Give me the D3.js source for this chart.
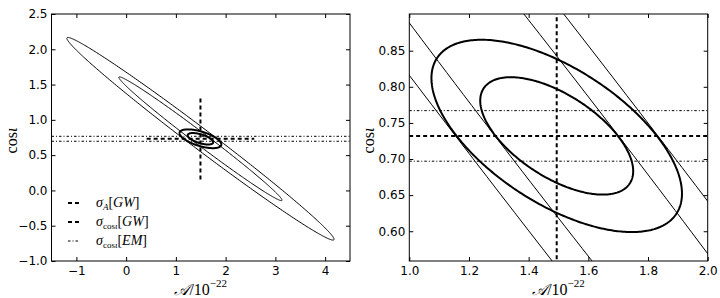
<!DOCTYPE html>
<html>
<head>
<meta charset="utf-8">
<script src="https://cdn.jsdelivr.net/npm/d3@7"></script>
<style>
body { margin: 0; background: white; }
.tick text { font-family: "DejaVu Sans", sans-serif; font-size: 12px; fill: black; }
.tick line { stroke: black; stroke-width: 1; }
.lab { font-family: "Liberation Serif", "DejaVu Serif", serif; fill: black; }
</style>
</head>
<body>
<script>
var width = 720, height = 298;

// centre of the contours (A/1e-22, cos iota)
var center = [1.494, 0.732];
// GW-only fisher errors and correlation
var gwSigma = [1.081, 0.578];
var gwRho = -0.992;
// GW+EM errors and correlation
var jointSigma = [0.169, 0.0536];
var jointRho = -0.6;
// EM prior on cos iota
var emSigma = 0.035;
// delta chi^2 levels (68%, 95%)
var chi2Levels = [2.30, 6.17];

var leftXDomain = [-1.5, 4.5], leftYDomain = [-1.0, 2.5];
var rightXDomain = [1.0, 2.0], rightYDomain = [0.5588, 0.9008];
var leftXTicks = [-1, 0, 1, 2, 3, 4];
var leftYTicks = [-1.0, -0.5, 0.0, 0.5, 1.0, 1.5, 2.0, 2.5];
var rightXTicks = [1.0, 1.2, 1.4, 1.6, 1.8, 2.0];
var rightYTicks = [0.60, 0.65, 0.70, 0.75, 0.80, 0.85];

var panels = [
    {name: "left", x0: 51.5, x1: 350, y0: 14, y1: 261,
     xd: leftXDomain, yd: leftYDomain, xt: leftXTicks, yt: leftYTicks,
     xf: d3.format("d"), yf: d3.format(".1f"), legend: true},
    {name: "right", x0: 409.3, x1: 707.7, y0: 14, y1: 261,
     xd: rightXDomain, yd: rightYDomain, xt: rightXTicks, yt: rightYTicks,
     xf: d3.format(".1f"), yf: d3.format(".2f"), legend: false}
];

var svg = d3.select("body").append("svg")
    .attr("width", width)
    .attr("height", height);

function ellipsePoints(sigma, rho, k){
    var pts = [];
    var s = Math.sqrt(k);
    for (var i = 0; i < 360; i++) {
        var t = i / 360 * 2 * Math.PI;
        pts.push([center[0] + s * sigma[0] * Math.cos(t),
                  center[1] + s * sigma[1] * (rho * Math.cos(t) + Math.sqrt(1 - rho * rho) * Math.sin(t))]);
    }
    return pts;
}

function drawPanel(p){
    var x = d3.scaleLinear().domain(p.xd).range([p.x0, p.x1]);
    var y = d3.scaleLinear().domain(p.yd).range([p.y1, p.y0]);
    var w = p.x1 - p.x0, h = p.y1 - p.y0;

    svg.append("clipPath").attr("id", "clip-" + p.name)
      .append("rect")
        .attr("x", p.x0).attr("y", p.y0)
        .attr("width", w).attr("height", h);

    var g = svg.append("g").attr("clip-path", "url(#clip-" + p.name + ")");

    var line = d3.line()
        .x(function(d) { return x(d[0]); })
        .y(function(d) { return y(d[1]); })
        .curve(d3.curveLinearClosed);

    // GW ellipses (thin)
    chi2Levels.forEach(function(k){
        g.append("path")
            .attr("d", line(ellipsePoints(gwSigma, gwRho, k)))
            .style("fill", "none").style("stroke", "black").style("stroke-width", 1);
    });
    // GW+EM ellipses (thick)
    chi2Levels.forEach(function(k){
        g.append("path")
            .attr("d", line(ellipsePoints(jointSigma, jointRho, k)))
            .style("fill", "none").style("stroke", "black").style("stroke-width", 2);
    });

    // sigma_A[GW]
    g.append("line")
        .attr("x1", x(center[0] - gwSigma[0])).attr("x2", x(center[0] + gwSigma[0]))
        .attr("y1", y(center[1])).attr("y2", y(center[1]))
        .style("stroke", "black").style("stroke-width", 2).style("stroke-dasharray", "4,3");
    // sigma_cos[GW]
    g.append("line")
        .attr("x1", x(center[0])).attr("x2", x(center[0]))
        .attr("y1", y(center[1] - gwSigma[1])).attr("y2", y(center[1] + gwSigma[1]))
        .style("stroke", "black").style("stroke-width", 2).style("stroke-dasharray", "4,3");
    // sigma_cos[EM]
    [-1, 1].forEach(function(s){
        g.append("line")
            .attr("x1", p.x0).attr("x2", p.x1)
            .attr("y1", y(center[1] + s * emSigma)).attr("y2", y(center[1] + s * emSigma))
            .style("stroke", "black").style("stroke-width", 1).style("stroke-dasharray", "2.5,2,1,2");
    });

    // axes, ticks inside on all sides
    svg.append("g").attr("transform", "translate(0," + p.y1 + ")")
        .call(d3.axisBottom(x).tickValues(p.xt).tickFormat(p.xf).tickSizeInner(-4).tickSizeOuter(0).tickPadding(5))
        .call(function(a){ a.select(".domain").remove(); });
    svg.append("g").attr("transform", "translate(0," + p.y0 + ")")
        .call(d3.axisTop(x).tickValues(p.xt).tickFormat("").tickSizeInner(-4).tickSizeOuter(0))
        .call(function(a){ a.select(".domain").remove(); });
    svg.append("g").attr("transform", "translate(" + p.x0 + ",0)")
        .call(d3.axisLeft(y).tickValues(p.yt).tickFormat(p.yf).tickSizeInner(-4).tickSizeOuter(0).tickPadding(4))
        .call(function(a){ a.select(".domain").remove(); });
    svg.append("g").attr("transform", "translate(" + p.x1 + ",0)")
        .call(d3.axisRight(y).tickValues(p.yt).tickFormat("").tickSizeInner(-4).tickSizeOuter(0))
        .call(function(a){ a.select(".domain").remove(); });

    svg.append("rect")
        .attr("x", p.x0).attr("y", p.y0)
        .attr("width", w).attr("height", h)
        .style("fill", "none").style("stroke", "black").style("stroke-width", 1);

    // axis labels
    var xl = svg.append("text").attr("class", "lab")
        .attr("x", (p.x0 + p.x1) / 2).attr("y", 295)
        .attr("text-anchor", "middle").style("font-size", "16px");
    xl.append("tspan").style("font-style", "italic").text("𝒜");
    xl.append("tspan").text("/10");
    xl.append("tspan").attr("dy", -8).style("font-size", "11px").text("−22");

    var yl = svg.append("text").attr("class", "lab")
        .attr("transform", "translate(" + (p.x0 - 35) + "," + ((p.y0 + p.y1) / 2 + 3) + ") rotate(-90)")
        .attr("text-anchor", "middle").style("font-size", "16px");
    yl.append("tspan").text("cos");
    yl.append("tspan").style("font-style", "italic").text("ι");

    if (p.legend) drawLegend();
}

function drawLegend(){
    var rows = [
        {sub: "A", subItalic: true, what: "GW", dash: "4,3", lw: 2},
        {sub: "cos", subItalic: false, what: "GW", dash: "4,3", lw: 2},
        {sub: "cos", subItalic: false, what: "EM", dash: "2.5,2,1,2", lw: 1}
    ];
    rows.forEach(function(r, i){
        var yy = 203 + i * 19;
        svg.append("line")
            .attr("x1", 68).attr("x2", 80).attr("y1", yy).attr("y2", yy)
            .style("stroke", "black").style("stroke-width", r.lw).style("stroke-dasharray", r.dash);
        var t = svg.append("text").attr("class", "lab")
            .attr("x", 96).attr("y", yy + 4).style("font-size", "14px");
        t.append("tspan").style("font-style", "italic").text("σ");
        var s = t.append("tspan").attr("dy", 3).style("font-size", "9px");
        if (r.subItalic) s.style("font-style", "italic").text(r.sub);
        else { s.text(r.sub); t.append("tspan").style("font-size", "9px").style("font-style", "italic").text("ι"); }
        t.append("tspan").attr("dy", -3).text("[");
        t.append("tspan").style("font-style", "italic").text(r.what);
        t.append("tspan").text("]");
    });
}

panels.forEach(drawPanel);
</script>
</body>
</html>
